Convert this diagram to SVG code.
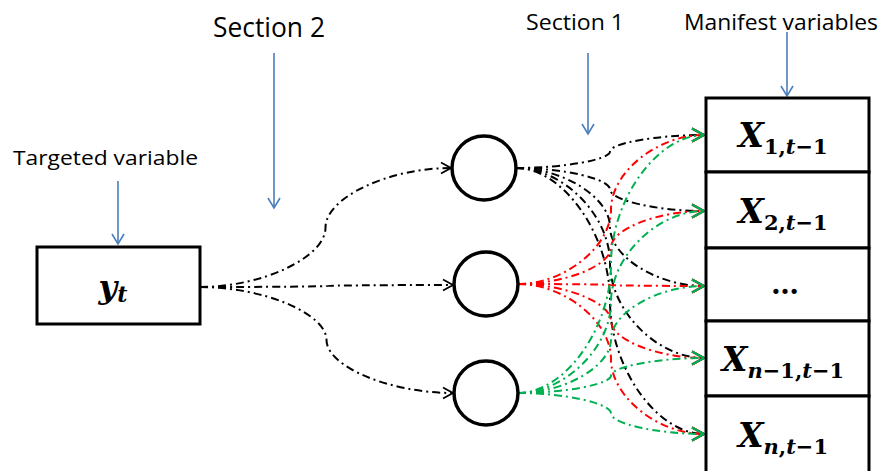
<svg xmlns="http://www.w3.org/2000/svg" width="883" height="471" viewBox="0 0 883 471">
<style>
.lbl{font-family:"Open Sans","Liberation Sans",sans-serif;fill:#000}
.math{font-family:"DejaVu Serif","Liberation Serif",serif;font-weight:bold;fill:#000}
.it{font-style:italic}
.box{fill:#fff;stroke:#000;stroke-width:3}
.circ{fill:#fff;stroke:#000;stroke-width:3.5}
.blue{stroke:#4A7EBB;stroke-width:1.6;fill:none}
.dd{fill:none;stroke-width:2;stroke-dasharray:8 4 2 4}
.k{stroke:#000}
.r{stroke:#FF0000}
.g{stroke:#00B050}
</style>
<defs>
<marker id="ab" markerUnits="userSpaceOnUse" markerWidth="16" markerHeight="16" refX="11" refY="7" orient="auto">
<path d="M1,1 L11,7 L1,13" fill="none" stroke="#4A7EBB" stroke-width="1.6"/>
</marker>
<marker id="ak" markerUnits="userSpaceOnUse" markerWidth="16" markerHeight="16" refX="11" refY="7" orient="auto">
<path d="M1,1.5 L11,7 L1,12.5" fill="none" stroke="#000" stroke-width="1.8" stroke-dasharray="none"/>
</marker>
<marker id="ar" markerUnits="userSpaceOnUse" markerWidth="18" markerHeight="18" refX="13" refY="8" orient="auto">
<path d="M1,1.5 L13,8 L1,14.5" fill="none" stroke="#FF0000" stroke-width="2" stroke-dasharray="none"/>
</marker>
<marker id="ag" markerUnits="userSpaceOnUse" markerWidth="18" markerHeight="18" refX="13" refY="8" orient="auto">
<path d="M1,1.5 L13,8 L1,14.5" fill="none" stroke="#00B050" stroke-width="2" stroke-dasharray="none"/>
</marker>
<marker id="akr" markerUnits="userSpaceOnUse" markerWidth="18" markerHeight="18" refX="13" refY="8" orient="auto">
<path d="M1,1.5 L13,8 L1,14.5" fill="none" stroke="#000" stroke-width="2" stroke-dasharray="none"/>
</marker>
</defs>

<g id="labels">
<text class="lbl" x="13" y="165" font-size="20.5" textLength="185" lengthAdjust="spacingAndGlyphs">Targeted variable</text>
<text class="lbl" x="213" y="37" font-size="27" textLength="112" lengthAdjust="spacingAndGlyphs">Section 2</text>
<text class="lbl" x="526" y="30" font-size="22" textLength="98" lengthAdjust="spacingAndGlyphs">Section 1</text>
<text class="lbl" x="684" y="30" font-size="22" textLength="194" lengthAdjust="spacingAndGlyphs">Manifest variables</text>
</g>

<g id="pointers">
<line class="blue" x1="118" y1="181" x2="118" y2="244" marker-end="url(#ab)"/>
<line class="blue" x1="274" y1="53" x2="274" y2="208" marker-end="url(#ab)"/>
<line class="blue" x1="588" y1="53" x2="588" y2="134" marker-end="url(#ab)"/>
<line class="blue" x1="787" y1="32" x2="787" y2="96" marker-end="url(#ab)"/>
</g>

<g id="connectors">
<path class="dd k" d="M200,287 C262.75,287 325.5,257.25 325.5,227.5 C325.5,197.75 388.25,168 451,168" marker-end="url(#ak)"/>
<path class="dd k" d="M200,287 C263.25,287 326.5,286.5 326.5,286 C326.5,285.5 389.75,285 453,285" marker-end="url(#ak)"/>
<path class="dd k" d="M200,287 C263.25,287 326.5,313.5 326.5,340 C326.5,366.5 389.75,393 453,393" marker-end="url(#ak)"/>

<path class="dd k" d="M516,168 C563,168 610,159.75 610,151.5 C610,143.25 657,135 704,135" marker-end="url(#akr)"/>
<path class="dd k" d="M516,168 C563,168 610,178.75 610,189.5 C610,200.25 657,211 704,211" marker-end="url(#akr)"/>
<path class="dd k" d="M516,168 C563,168 610,197.5 610,227 C610,256.5 657,286 704,286" marker-end="url(#akr)"/>
<path class="dd k" d="M516,168 C563,168 610,215.5 610,263 C610,310.5 657,358 704,358" marker-end="url(#akr)"/>
<path class="dd k" d="M516,168 C563,168 610,234.5 610,301 C610,367.5 657,434 704,434" marker-end="url(#akr)"/>

<path class="dd r" d="M518,284 C564.5,284 611,246.75 611,209.5 C611,172.25 657.5,135 704,135" marker-end="url(#ar)"/>
<path class="dd r" d="M518,284 C564.5,284 611,265.75 611,247.5 C611,229.25 657.5,211 704,211" marker-end="url(#ar)"/>
<path class="dd r" d="M518,284 C564.5,284 611,284.5 611,285 C611,285.5 657.5,286 704,286" marker-end="url(#ar)"/>
<path class="dd r" d="M518,284 C564.5,284 611,302.5 611,321 C611,339.5 657.5,358 704,358" marker-end="url(#ar)"/>
<path class="dd r" d="M518,284 C564.5,284 611,321.5 611,359 C611,396.5 657.5,434 704,434" marker-end="url(#ar)"/>

<path class="dd g" d="M518,393 C564.5,393 611,328.5 611,264 C611,199.5 657.5,135 704,135" marker-end="url(#ag)"/>
<path class="dd g" d="M518,393 C564.5,393 611,347.5 611,302 C611,256.5 657.5,211 704,211" marker-end="url(#ag)"/>
<path class="dd g" d="M518,393 C564.5,393 611,366.25 611,339.5 C611,312.75 657.5,286 704,286" marker-end="url(#ag)"/>
<path class="dd g" d="M518,393 C564.5,393 611,384.25 611,375.5 C611,366.75 657.5,358 704,358" marker-end="url(#ag)"/>
<path class="dd g" d="M518,393 C564.5,393 611,403.25 611,413.5 C611,423.75 657.5,434 704,434" marker-end="url(#ag)"/>
</g>

<g id="node-yt">
<rect class="box" x="37" y="247" width="163" height="77"/>
<text class="math" x="113" y="298" font-size="32" text-anchor="middle"><tspan class="it">y</tspan><tspan class="it" font-size="22" dy="4">t</tspan></text>
</g>

<g id="node-c1"><circle class="circ" cx="484" cy="168" r="32"/></g>
<g id="node-c2"><circle class="circ" cx="486" cy="284" r="32"/></g>
<g id="node-c3"><circle class="circ" cx="486" cy="393" r="32"/></g>

<g id="node-x1">
<rect class="box" x="706" y="98" width="163" height="74"/>
<text class="math" x="783" y="147" font-size="33" text-anchor="middle"><tspan class="it">X</tspan><tspan font-size="21" dy="7">1,<tspan class="it">t</tspan>−1</tspan></text>
</g>
<g id="node-x2">
<rect class="box" x="706" y="172" width="163" height="76"/>
<text class="math" x="783" y="223" font-size="33" text-anchor="middle"><tspan class="it">X</tspan><tspan font-size="21" dy="7">2,<tspan class="it">t</tspan>−1</tspan></text>
</g>
<g id="node-xdots">
<rect class="box" x="706" y="248" width="163" height="73"/>
<text class="math" x="785" y="294" font-size="28" text-anchor="middle">…</text>
</g>
<g id="node-xn1">
<rect class="box" x="706" y="321" width="163" height="75"/>
<text class="math" x="783" y="371" font-size="33" text-anchor="middle"><tspan class="it">X</tspan><tspan font-size="21" dy="7"><tspan class="it">n</tspan>−1,<tspan class="it">t</tspan>−1</tspan></text>
</g>
<g id="node-xn">
<rect class="box" x="706" y="396" width="163" height="80"/>
<text class="math" x="783" y="447" font-size="33" text-anchor="middle"><tspan class="it">X</tspan><tspan font-size="21" dy="7"><tspan class="it">n</tspan>,<tspan class="it">t</tspan>−1</tspan></text>
</g>
</svg>
